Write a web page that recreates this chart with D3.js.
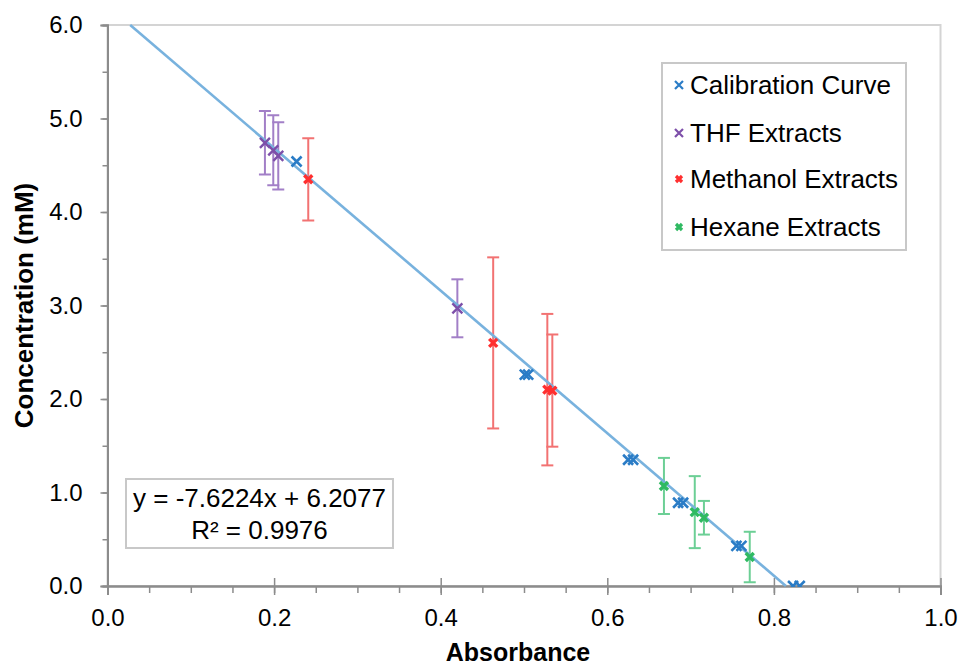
<!DOCTYPE html>
<html>
<head>
<meta charset="utf-8">
<script src="https://cdn.jsdelivr.net/npm/d3@7"></script>
<style>
  body { margin: 0; background: #fff; }
  text { font-family: "Liberation Sans", Arial, sans-serif; fill: #000; }
</style>
</head>
<body>
<div id="chart"></div>
<script>
'use strict'

// ---- data ----
const calX = [0.227, 0.501, 0.505, 0.625, 0.631, 0.685, 0.691, 0.755, 0.761, 0.823, 0.831]
const calY = [4.54, 2.26, 2.26, 1.35, 1.35, 0.89, 0.89, 0.43, 0.43, 0.00, 0.00]

const thfX = [0.189, 0.199, 0.205, 0.420]
const thfY = [4.74, 4.66, 4.60, 2.97]
const thfErr = [0.34, 0.375, 0.36, 0.31]

const methX = [0.241, 0.463, 0.528, 0.534]
const methY = [4.35, 2.60, 2.10, 2.09]
const methErr = [0.44, 0.915, 0.81, 0.60]

const hexX = [0.668, 0.705, 0.716, 0.771]
const hexY = [1.07, 0.79, 0.73, 0.31]
const hexErr = [0.30, 0.385, 0.18, 0.27]

const trendSlope = -7.6224
const trendIntercept = 6.2077
const eqLines = ['y = -7.6224x + 6.2077', 'R\u00b2 = 0.9976']

const legendNames = ['Calibration Curve', 'THF Extracts', 'Methanol Extracts', 'Hexane Extracts']
const xTicks = [0, 0.2, 0.4, 0.6, 0.8, 1.0]
const yTicks = [0, 1, 2, 3, 4, 5, 6]

////////////////////////////////////
//////////// svg setup /////////////
////////////////////////////////////
const svgWidth = 960, svgHeight = 666
const margin = {left: 107.5, right: 19.5, top: 25, bottom: 80}
const width = svgWidth - margin.left - margin.right
const height = svgHeight - margin.top - margin.bottom

const svg = d3.select('#chart').append('svg')
    .attr('width', svgWidth)
    .attr('height', svgHeight)

const g = svg.append('g')
    .attr('transform', `translate(${margin.left},${margin.top})`)

const x = d3.scaleLinear().domain([0, 1]).range([0, width])
const y = d3.scaleLinear().domain([0, 6]).range([height, 0])

// plot area border (light)
g.append('rect')
    .attr('width', width).attr('height', height)
    .attr('fill', 'none').attr('stroke', '#d4d4d4').attr('stroke-width', 2)

const axisColor = '#8c8c8c'

// minor ticks
const xMinor = g.append('g').attr('transform', `translate(0,${height})`)
    .call(d3.axisBottom(x).tickValues(d3.range(0, 1.0001, 0.05)).tickSize(7).tickFormat(''))
const yMinor = g.append('g')
    .call(d3.axisLeft(y).tickValues(d3.range(0, 6.0001, 0.5)).tickSize(5).tickFormat(''))

// major ticks and labels
const xAxis = g.append('g').attr('transform', `translate(0,${height})`)
    .call(d3.axisBottom(x).tickValues(xTicks).tickSize(9).tickPadding(14).tickFormat(d3.format('.1f')))
xAxis.selectAll('.tick line').attr('y1', -8)
const yAxis = g.append('g')
    .call(d3.axisLeft(y).tickValues(yTicks).tickSize(7).tickPadding(18).tickFormat(d3.format('.1f')))

;[xMinor, yMinor, xAxis, yAxis].forEach(a => {
    a.selectAll('path').attr('stroke', axisColor).attr('stroke-width', 2)
    a.selectAll('line').attr('stroke', axisColor).attr('stroke-width', 1.5)
})
xAxis.selectAll('text').style('font-size', '24px').attr('fill', '#000')
yAxis.selectAll('text').style('font-size', '24px').attr('fill', '#000')

// axis titles
svg.append('text')
    .attr('x', margin.left + width / 2 - 6).attr('y', 661)
    .attr('text-anchor', 'middle')
    .style('font-size', '25px').style('font-weight', 'bold')
    .text('Absorbance')
svg.append('text')
    .attr('transform', `translate(33,${margin.top + height / 2}) rotate(-90)`)
    .attr('text-anchor', 'middle')
    .style('font-size', '26px').style('font-weight', 'bold')
    .text('Concentration (mM)')

////////////////////////////////////
//////////// series ////////////////
////////////////////////////////////
const series = [
    {xs: calX, ys: calY, errs: null, color: '#2a7cc6', errColor: null, size: 5, sw: 2.6},
    {xs: thfX, ys: thfY, errs: thfErr, color: '#7d4fa9', errColor: '#a27fc7', size: 5, sw: 2.4},
    {xs: methX, ys: methY, errs: methErr, color: '#ff2f2f', errColor: '#f27272', size: 4, sw: 3.4},
    {xs: hexX, ys: hexY, errs: hexErr, color: '#2fba62', errColor: '#6ccf95', size: 4, sw: 3.4}
]

const plot = g.append('g')
    .attr('clip-path', 'url(#clip)')
svg.append('clipPath').attr('id', 'clip')
    .append('rect').attr('x', -10).attr('y', -2).attr('width', width + 20).attr('height', height + 3)

// error bars
const cap = 6
series.filter(s => s.errs).forEach(s => {
    const eg = plot.append('g').attr('stroke', s.errColor).attr('stroke-width', 2).attr('fill', 'none')
    s.xs.forEach((xv, i) => {
        const lo = s.ys[i] - s.errs[i], hi = s.ys[i] + s.errs[i]
        eg.append('line').attr('x1', x(xv)).attr('x2', x(xv)).attr('y1', y(lo)).attr('y2', y(hi))
        eg.append('line').attr('x1', x(xv) - cap).attr('x2', x(xv) + cap).attr('y1', y(lo)).attr('y2', y(lo))
        eg.append('line').attr('x1', x(xv) - cap).attr('x2', x(xv) + cap).attr('y1', y(hi)).attr('y2', y(hi))
    })
})

// trendline, clipped to the plot area
const x0 = (6 - trendIntercept) / trendSlope
const x1 = (0 - trendIntercept) / trendSlope
plot.append('path')
    .datum([x0, x1])
    .attr('d', d3.line().x(d => x(d)).y(d => y(trendIntercept + trendSlope * d)))
    .attr('stroke', '#78b2de').attr('stroke-width', 2.6).attr('fill', 'none')

// x markers
function cross(sel, cx, cy, r, color, sw) {
    sel.append('path')
        .attr('d', `M${cx - r},${cy - r}L${cx + r},${cy + r}M${cx - r},${cy + r}L${cx + r},${cy - r}`)
        .attr('stroke', color).attr('stroke-width', sw).attr('fill', 'none')
}
series.forEach(s => {
    const mg = plot.append('g')
    s.xs.forEach((xv, i) => cross(mg, x(xv), y(s.ys[i]), s.size, s.color, s.sw))
})

////////////////////////////////////
//////////// legend ////////////////
////////////////////////////////////
const legend = svg.append('g')
legend.append('rect')
    .attr('x', 662).attr('y', 63).attr('width', 244).attr('height', 187)
    .attr('fill', '#fff').attr('stroke', '#c8c8c8').attr('stroke-width', 2)
const legendY = [85, 133, 179, 227]
legendNames.forEach((name, i) => {
    const s = series[i]
    cross(legend, 679, legendY[i], i < 2 ? 4 : 3, s.color, i < 2 ? 2.2 : 3.2)
    legend.append('text')
        .attr('x', 690).attr('y', legendY[i]).attr('dy', '0.36em')
        .style('font-size', '26px')
        .text(name)
})

////////////////////////////////////
//////////// equation box //////////
////////////////////////////////////
const eq = svg.append('g')
const eqRect = eq.append('rect')
    .attr('x', 126).attr('y', 479).attr('height', 69)
    .attr('fill', '#fff').attr('stroke', '#c8c8c8').attr('stroke-width', 2)
const eqText = eq.selectAll('text.eq')
    .data(eqLines)
    .join('text')
    .attr('class', 'eq')
    .attr('y', (d, i) => 507 + i * 32)
    .attr('text-anchor', 'middle')
    .style('font-size', '26px')
    .text(d => d)
const eqW = d3.max(eqText.nodes(), n => n.getComputedTextLength()) + 14
eqRect.attr('width', eqW)
eqText.attr('x', 126 + eqW / 2)
</script>
</body>
</html>
